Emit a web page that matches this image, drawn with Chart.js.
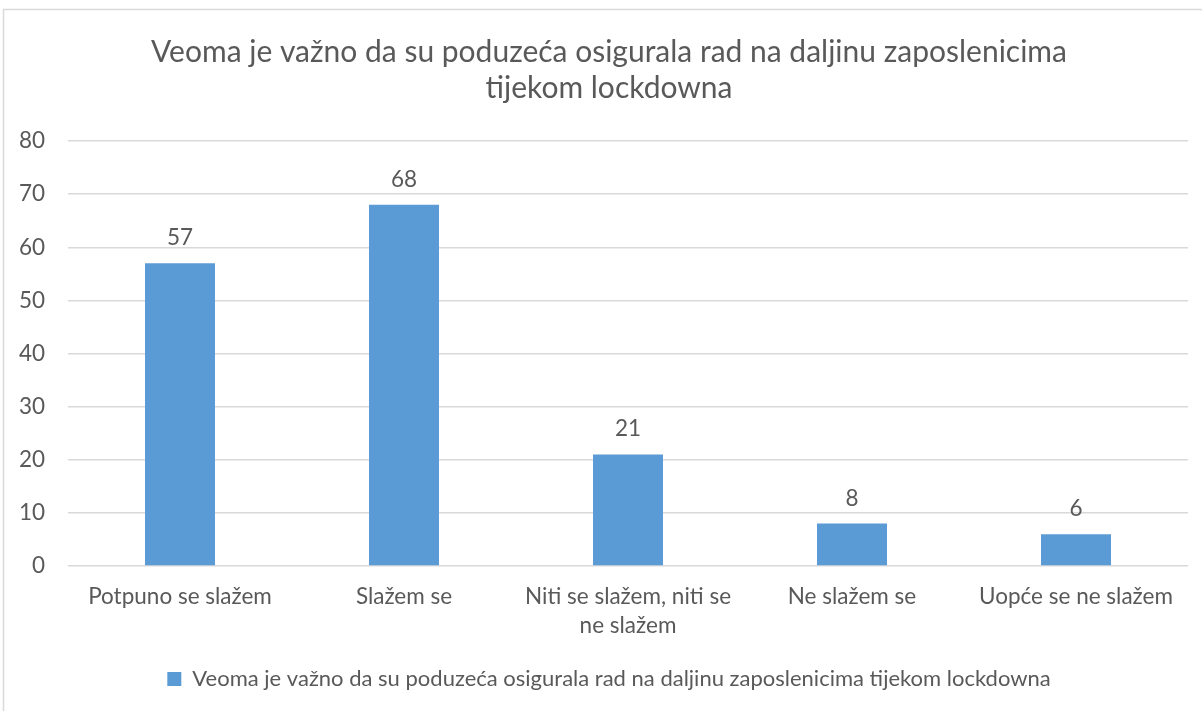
<!DOCTYPE html>
<html><head><meta charset="utf-8">
<script src="https://cdn.jsdelivr.net/npm/chart.js@4.4.1/dist/chart.umd.min.js"></script>
<style>html,body{margin:0;padding:0;background:#fff;overflow:hidden}#wrap{width:1202px;height:711px;position:relative}</style>
</head><body><div id="wrap"><canvas id="c" width="1202" height="711"></canvas></div>
<script>
const titleLines = ["Veoma je važno da su poduzeća osigurala rad na daljinu zaposlenicima", "tijekom lockdowna"];
const seriesName = "Veoma je važno da su poduzeća osigurala rad na daljinu zaposlenicima tijekom lockdowna";
const categories = ["Potpuno se slažem", "Slažem se", ["Niti se slažem, niti se", "ne slažem"], "Ne slažem se", "Uopće se ne slažem"];
const values = [57, 68, 21, 8, 6];
const yMin = 0, yMax = 80, yStep = 10;

const FONT = "Lato, 'Open Sans', sans-serif";
const TEXT = '#595959';
const GRID = '#D9D9D9';
const BAR = '#5B9BD5';

const frame = {
  id: 'frame',
  beforeDraw(chart) {
    const ctx = chart.ctx;
    ctx.save();
    ctx.fillStyle = '#fff';
    ctx.fillRect(0, 0, chart.width, chart.height);
    ctx.strokeStyle = GRID;
    ctx.lineWidth = 1.5;
    ctx.strokeRect(3.5, 9.5, 1220, 740);
    ctx.restore();
  }
};

const valueLabels = {
  id: 'valueLabels',
  afterDatasetsDraw(chart) {
    const ctx = chart.ctx;
    const meta = chart.getDatasetMeta(0);
    const data = chart.data.datasets[0].data;
    ctx.save();
    ctx.font = "22.5px " + FONT;
    ctx.fillStyle = TEXT;
    ctx.textAlign = 'center';
    ctx.textBaseline = 'alphabetic';
    meta.data.forEach((bar, i) => {
      ctx.fillText(String(data[i]), bar.x, bar.y - 18);
    });
    ctx.restore();
  }
};

new Chart(document.getElementById('c'), {
  type: 'bar',
  data: {
    labels: categories,
    datasets: [{
      label: seriesName,
      data: values,
      backgroundColor: BAR,
      borderWidth: 0,
      categoryPercentage: 1,
      barPercentage: 0.3125
    }]
  },
  options: {
    responsive: false,
    animation: false,
    devicePixelRatio: 1,
    layout: { padding: { left: 16, right: 0, top: 0, bottom: 11 } },
    plugins: {
      title: {
        display: true,
        text: titleLines,
        color: TEXT,
        font: { family: FONT, size: 30, weight: 'normal', lineHeight: 36 / 30 },
        padding: { top: 34, bottom: 35 }
      },
      legend: {
        display: true,
        position: 'bottom',
        labels: {
          color: TEXT,
          font: { family: FONT, size: 22 },
          boxWidth: 14,
          boxHeight: 14,
          padding: 10
        }
      },
      tooltip: { enabled: false }
    },
    scales: {
      x: {
        grid: { display: false, drawTicks: false },
        border: { display: false },
        ticks: {
          color: TEXT,
          font: { family: FONT, size: 22.5, lineHeight: 29 / 22.5 },
          padding: 16.5,
          maxRotation: 0,
          autoSkip: false
        },
        afterFit(s) { s.height = 92; }
      },
      y: {
        min: yMin, max: yMax,
        grid: { color: GRID, lineWidth: 1.5, drawTicks: false },
        border: { display: false },
        ticks: {
          stepSize: yStep,
          color: TEXT,
          font: { family: FONT, size: 22.5 },
          padding: 23
        },
        afterFit(s) { s.width = 52; }
      },
      pad: {
        type: 'linear',
        position: 'right',
        display: true,
        grid: { display: false, drawTicks: false },
        border: { display: false },
        ticks: { display: false },
        afterFit(s) { s.width = 14; }
      }
    }
  },
  plugins: [frame, valueLabels]
});
</script>
</body></html>
